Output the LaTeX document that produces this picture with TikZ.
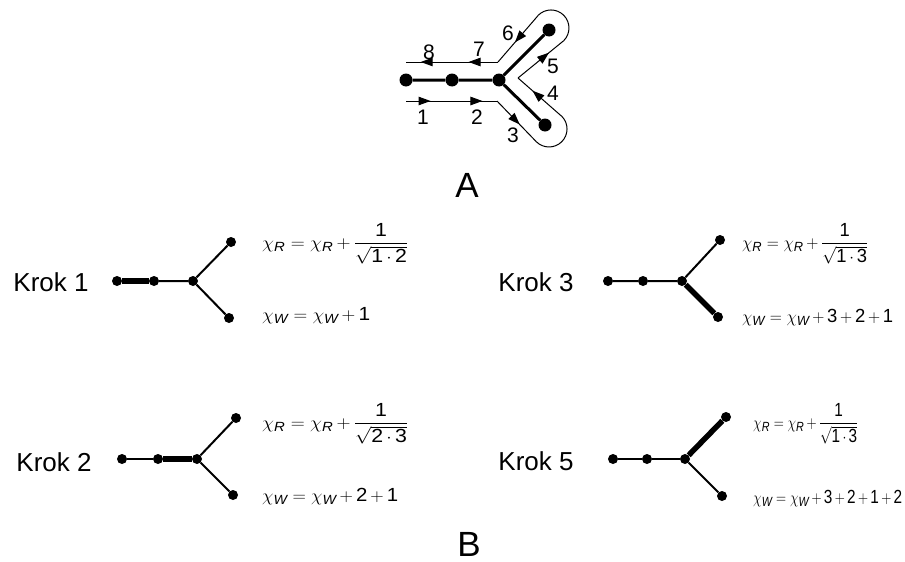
\documentclass[tikz,border=0pt]{standalone}
\usepackage{amsmath}
\usepackage{graphicx}
\usepackage{fontspec}
\setmainfont{Liberation Sans}
\usetikzlibrary{decorations.markings,arrows.meta}
\medmuskip=3mu\relax
\newcommand\sR{\text{\itshape R}}
\newcommand\sW{\text{\itshape W}}
\newcommand\tx[1]{\text{#1}}
\newcommand\fitw[2]{\resizebox{#1pt}{\height}{#2}}
\begin{document}
\begin{tikzpicture}[x=1pt,y=1pt,
  dotA/.style={circle,fill,inner sep=0pt,minimum size=13pt},
  dotB/.style={circle,fill,inner sep=0pt,minimum size=10pt},
  treeA/.style={line width=3pt},
  edgeB/.style={line width=2pt},
  edgeT/.style={line width=5.5pt},
  contour/.style={line width=1pt},
  mk/.style={postaction={decorate,decoration={markings,mark=at position #1 with {\arrow{Triangle[length=12pt,width=8.5pt]}}}}},
  num/.style={font=\fontsize{21}{24}\selectfont, inner sep=0pt},
  big/.style={font=\fontsize{35}{40}\selectfont, inner sep=0pt},
  krok/.style={font=\fontsize{26}{30}\selectfont, inner sep=0pt},
  eq/.style={font=\fontsize{19}{22}\selectfont, inner sep=0pt, anchor=base west},
]
\useasboundingbox (0,0) rectangle (905,-562);

% ---------- Part A ----------
\node[dotA] (a1) at (406,-80) {};
\node[dotA] (a2) at (452,-80) {};
\node[dotA] (aj) at (499,-80) {};
\node[dotA] (au) at (549,-30) {};
\node[dotA] (al) at (545,-125) {};
\draw[treeA] (a1) -- (a2) -- (aj) -- (au);
\draw[treeA] (aj) -- (al);

\coordinate (p1) at (406,-101);
\coordinate (p2) at (497,-101);
\coordinate (lo) at (536.3,-141.7);
\coordinate (li) at (561.7,-116.3);
\coordinate (v) at (518,-78);
\coordinate (ui) at (563.7,-40.7);
\coordinate (uo) at (538.3,-15.3);
\coordinate (p3) at (498,-62);
\coordinate (p4) at (406,-62);

\draw[contour, mk=0.27, mk=0.84] (p1) -- (p2);
\draw[contour, mk=0.58] (p2) -- (lo);
\draw[contour] (lo) arc[start angle=-135, end angle=45, radius=18pt];
\draw[contour, mk=0.67] (li) -- (v);
\draw[contour, mk=0.68] (v) -- (ui);
\draw[contour] (ui) arc[start angle=-45, end angle=135, radius=18pt];
\draw[contour, mk=0.58] (uo) -- (p3);
\draw[contour, mk=0.32, mk=0.84] (p3) -- (p4);

\node[num] (n1) at (423,-117) {1};
\node[num] (n2) at (477,-117) {2};
\node[num] (n3) at (513,-135) {3};
\node[num] (n4) at (553,-93) {4};
\node[num] (n5) at (553,-66) {5};
\node[num] (n6) at (508,-33) {6};
\node[num] (n7) at (479,-49) {7};
\node[num] (n8) at (429,-52) {8};

\node[big] (labA) at (467,-185) {A};
\node[big] (labB) at (469,-544) {B};

% ---------- Krok 1 ----------
\node[krok] (t1) at (51,-282) {Krok 1};
\node[dotB] (k1a) at (117,-281) {};
\node[dotB] (k1b) at (154,-281) {};
\node[dotB] (k1j) at (193,-281) {};
\node[dotB] (k1u) at (231,-242) {};
\node[dotB] (k1l) at (229,-318) {};
\draw[edgeT] (k1a) -- (k1b);
\draw[edgeB] (k1b) -- (k1j) -- (k1u);
\draw[edgeB] (k1j) -- (k1l);
\node[eq] (e1u) at (262,-248) {\fitw{146}{$\chi_{\sR} = \chi_{\sR} + \dfrac{\tx{1}}{\sqrt{\tx{1}\cdot\tx{2}}}$}};
\node[eq] (e1l) at (262,-320) {\fitw{108}{$\chi_{\sW} = \chi_{\sW} + \tx{1}$}};

% ---------- Krok 2 ----------
\node[krok] (t2) at (54,-462) {Krok 2};
\node[dotB] (k2a) at (122,-459) {};
\node[dotB] (k2b) at (158,-459) {};
\node[dotB] (k2j) at (197,-459) {};
\node[dotB] (k2u) at (236,-418) {};
\node[dotB] (k2l) at (233,-495) {};
\draw[edgeB] (k2a) -- (k2b);
\draw[edgeT] (k2b) -- (k2j);
\draw[edgeB] (k2j) -- (k2u);
\draw[edgeB] (k2j) -- (k2l);
\node[eq] (e2u) at (262,-428) {\fitw{146}{$\chi_{\sR} = \chi_{\sR} + \dfrac{\tx{1}}{\sqrt{\tx{2}\cdot\tx{3}}}$}};
\node[eq] (e2l) at (262,-501) {\fitw{136}{$\chi_{\sW} = \chi_{\sW} + \tx{2} + \tx{1}$}};

% ---------- Krok 3 ----------
\node[krok] (t3) at (536,-282) {Krok 3};
\node[dotB] (k3a) at (608,-281) {};
\node[dotB] (k3b) at (643,-281) {};
\node[dotB] (k3j) at (682,-281) {};
\node[dotB] (k3u) at (720,-240) {};
\node[dotB] (k3l) at (718,-317) {};
\draw[edgeB] (k3a) -- (k3b) -- (k3j) -- (k3u);
\draw[edgeT] (k3j) -- (k3l);
\node[eq] (e3u) at (742,-248) {\fitw{126}{$\chi_{\sR} = \chi_{\sR} + \dfrac{\tx{1}}{\sqrt{\tx{1}\cdot\tx{3}}}$}};
\node[eq] (e3l) at (742,-322) {\fitw{151}{$\chi_{\sW} = \chi_{\sW} + \tx{3} + \tx{2} + \tx{1}$}};

% ---------- Krok 5 ----------
\node[krok] (t5) at (536,-461) {Krok 5};
\node[dotB] (k5a) at (613,-459) {};
\node[dotB] (k5b) at (647,-459) {};
\node[dotB] (k5j) at (685,-459) {};
\node[dotB] (k5u) at (726,-417) {};
\node[dotB] (k5l) at (722,-496) {};
\draw[edgeB] (k5a) -- (k5b) -- (k5j);
\draw[edgeT] (k5j) -- (k5u);
\draw[edgeB] (k5j) -- (k5l);
\node[eq] (e5u) at (753,-428) {\fitw{105}{$\chi_{\sR} = \chi_{\sR} + \dfrac{\tx{1}}{\sqrt{\tx{1}\cdot\tx{3}}}$}};
\node[eq] (e5l) at (753,-503) {\fitw{149}{$\chi_{\sW} = \chi_{\sW} + \tx{3} + \tx{2} + \tx{1} + \tx{2}$}};
\end{tikzpicture}
\end{document}
